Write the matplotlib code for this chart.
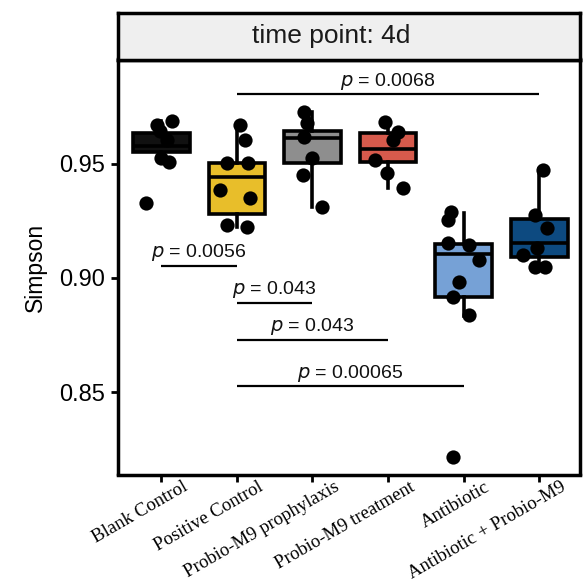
import matplotlib
matplotlib.use("Agg")
import matplotlib.pyplot as plt
import matplotlib.transforms as mtransforms
import numpy as np

# ---------------- data ----------------
groups = ["Blank Control", "Positive Control", "Probio-M9 prophylaxis",
          "Probio-M9 treatment", "Antibiotic", "Antibiotic + Probio-M9"]
fill_colors = ["#111111", "#E8BE2A", "#8E8E8E", "#D65A4C", "#76A1D6", "#0D4A80"]

whislo = [0.9509, 0.9224, 0.9311, 0.9395, 0.8833, 0.9044]
q1     = [0.9553, 0.9281, 0.9504, 0.9509, 0.8917, 0.9092]
median = [0.9579, 0.9440, 0.9614, 0.9566, 0.9105, 0.9154]
q3     = [0.9636, 0.9504, 0.9645, 0.9636, 0.9150, 0.9259]
whishi = [0.9689, 0.9671, 0.9728, 0.9684, 0.9285, 0.9478]

pts_blank = [0.9689, 0.9671, 0.9645, 0.9605, 0.9526, 0.9509, 0.9329]
jit_blank = [0.146, -0.053, -0.013, 0.08, 0.0, 0.106, -0.199]
pts_pos = [0.9671, 0.9605, 0.9504, 0.9504, 0.9386, 0.9351, 0.9232, 0.9224]
jit_pos = [0.04, 0.106, -0.132, 0.146, -0.225, 0.172, -0.132, 0.132]
pts_pro = [0.9728, 0.9680, 0.9618, 0.9526, 0.9452, 0.9311]
jit_pro = [-0.106, -0.066, -0.106, 0.0, -0.132, 0.132]
pts_trt = [0.9684, 0.9640, 0.9605, 0.9518, 0.9461, 0.9395]
jit_trt = [-0.04, 0.132, 0.066, -0.172, -0.013, 0.199]
pts_abx = [0.9289, 0.9254, 0.9154, 0.9145, 0.9079, 0.8982, 0.8917, 0.8838, 0.8215]
jit_abx = [-0.172, -0.212, -0.212, 0.066, 0.199, -0.066, -0.146, 0.066, -0.146]
pts_abp = [0.9474, 0.9276, 0.9219, 0.9132, 0.9101, 0.9048, 0.9048]
jit_abp = [0.053, -0.053, 0.106, -0.026, -0.212, -0.053, 0.08]

points = [pts_blank, pts_pos, pts_pro, pts_trt, pts_abx, pts_abp]
jitters = [jit_blank, jit_pos, jit_pro, jit_trt, jit_abx, jit_abp]

# comparisons: (group a, group b, y of bracket, label)
comp_a = [1, 0, 1, 1, 1]
comp_b = [5, 1, 2, 3, 4]
comp_y = [0.9803, 0.9053, 0.8890, 0.8728, 0.8526]
comp_p = ["0.0068", "0.0056", "0.043", "0.043", "0.00065"]

yticks = [0.85, 0.90, 0.95]
ytick_labels = ["0.85", "0.90", "0.95"]
title = "time point: 4d"
ylabel = "Simpson"

# ---------------- figure ----------------
fig = plt.figure(figsize=(5.84, 5.83), dpi=100)
L, R = 117.5 / 584, 580 / 584
B, T = 1 - 474.5 / 583, 1 - 59.5 / 583
ax = fig.add_axes([L, B, R - L, T - B])

lw = 2.6
stats = []
for i in range(len(groups)):
    stats.append(dict(whislo=whislo[i], q1=q1[i], med=median[i], q3=q3[i],
                      whishi=whishi[i], fliers=[]))
pos = np.arange(len(groups))
bp = ax.bxp(stats, positions=pos, widths=0.75, patch_artist=True,
            showcaps=False, showfliers=False,
            boxprops=dict(linewidth=lw, edgecolor="black"),
            whiskerprops=dict(linewidth=lw, color="black"),
            medianprops=dict(linewidth=lw, color="black"),
            zorder=2)
for patch, c in zip(bp["boxes"], fill_colors):
    patch.set_facecolor(c)

for i, (vals, jit) in enumerate(zip(points, jitters)):
    ax.scatter(pos[i] + np.array(jit), vals, s=105, color="black", zorder=3,
               linewidths=0)

for a, b, y, p in zip(comp_a, comp_b, comp_y, comp_p):
    ax.plot([pos[a], pos[b]], [y, y], color="black", lw=1.6, zorder=1,
            solid_capstyle="butt")
    ax.text((pos[a] + pos[b]) / 2, y + 0.0012, r"$\it{p}$ = " + p,
            ha="center", va="bottom", fontsize=14, family="Liberation Sans",
            color="#111111")

ax.set_xlim(-0.58, 5.54)
ax.set_ylim(0.814, 0.9956)
ax.set_yticks(yticks)
ax.set_yticklabels(ytick_labels, fontsize=17, family="Liberation Sans")
ax.set_xticks(pos)
ax.set_xticklabels([])
offset = mtransforms.ScaledTranslation(21 / 100, -4 / 100, fig.dpi_scale_trans)
for i, g in enumerate(groups):
    ax.text(pos[i], 0, g, rotation=30, ha="right", va="top",
            rotation_mode="anchor", fontsize=13.5, family="Liberation Serif",
            transform=ax.get_xaxis_transform() + offset, clip_on=False)
ax.tick_params(axis="both", width=2, length=5, color="black")
ax.tick_params(axis="y", pad=4)
for s in ax.spines.values():
    s.set_linewidth(2.5)
ax.set_ylabel(ylabel, fontsize=16.5, family="Liberation Sans", labelpad=9)

# facet strip
sT = 1 - 12.5 / 583
sax = fig.add_axes([L, T, R - L, sT - T])
sax.set_facecolor("#EFEFEF")
sax.set_xticks([])
sax.set_yticks([])
for s in sax.spines.values():
    s.set_linewidth(2.5)
sax.text((331 - 117.5) / (580 - 117.5), 0.5, title, ha="center", va="center",
         fontsize=19, family="Liberation Sans", color="#1a1a1a",
         transform=sax.transAxes)

fig.savefig("out.png", dpi=100)
